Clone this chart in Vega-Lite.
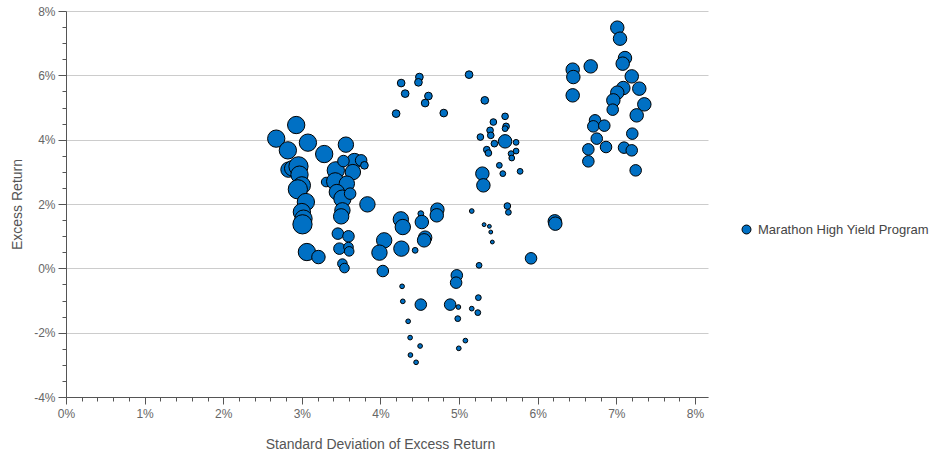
{
  "$schema": "https://vega.github.io/schema/vega-lite/v6.json",
  "width": 642,
  "height": 386,
  "autosize": {"type": "none"},
  "padding": {"left": 66, "top": 11, "right": 222, "bottom": 54},
  "background": "white",
  "config": {
    "view": {"stroke": null},
    "font": "Liberation Sans"
  },
  "data": {
    "values": [
      {"sd": 2.928, "ret": 4.455, "w": 81, "series": "Marathon High Yield Program"},
      {"sd": 2.674, "ret": 4.032, "w": 81, "series": "Marathon High Yield Program"},
      {"sd": 3.077, "ret": 3.907, "w": 81, "series": "Marathon High Yield Program"},
      {"sd": 2.822, "ret": 3.668, "w": 81, "series": "Marathon High Yield Program"},
      {"sd": 3.284, "ret": 3.553, "w": 81, "series": "Marathon High Yield Program"},
      {"sd": 3.560, "ret": 3.845, "w": 64, "series": "Marathon High Yield Program"},
      {"sd": 2.830, "ret": 3.068, "w": 64, "series": "Marathon High Yield Program"},
      {"sd": 2.877, "ret": 3.109, "w": 64, "series": "Marathon High Yield Program"},
      {"sd": 2.957, "ret": 3.171, "w": 100, "series": "Marathon High Yield Program"},
      {"sd": 2.970, "ret": 2.913, "w": 81, "series": "Marathon High Yield Program"},
      {"sd": 3.000, "ret": 2.580, "w": 81, "series": "Marathon High Yield Program"},
      {"sd": 2.949, "ret": 2.456, "w": 100, "series": "Marathon High Yield Program"},
      {"sd": 3.051, "ret": 2.061, "w": 81, "series": "Marathon High Yield Program"},
      {"sd": 3.000, "ret": 1.750, "w": 81, "series": "Marathon High Yield Program"},
      {"sd": 3.021, "ret": 1.545, "w": 81, "series": "Marathon High Yield Program"},
      {"sd": 3.008, "ret": 1.368, "w": 100, "series": "Marathon High Yield Program"},
      {"sd": 3.064, "ret": 0.507, "w": 81, "series": "Marathon High Yield Program"},
      {"sd": 3.211, "ret": 0.351, "w": 49, "series": "Marathon High Yield Program"},
      {"sd": 3.432, "ret": 3.046, "w": 81, "series": "Marathon High Yield Program"},
      {"sd": 3.669, "ret": 3.335, "w": 64, "series": "Marathon High Yield Program"},
      {"sd": 3.529, "ret": 3.335, "w": 36, "series": "Marathon High Yield Program"},
      {"sd": 3.754, "ret": 3.357, "w": 36, "series": "Marathon High Yield Program"},
      {"sd": 3.796, "ret": 3.202, "w": 16, "series": "Marathon High Yield Program"},
      {"sd": 3.649, "ret": 2.993, "w": 64, "series": "Marathon High Yield Program"},
      {"sd": 3.309, "ret": 2.683, "w": 25, "series": "Marathon High Yield Program"},
      {"sd": 3.424, "ret": 2.704, "w": 81, "series": "Marathon High Yield Program"},
      {"sd": 3.572, "ret": 2.633, "w": 64, "series": "Marathon High Yield Program"},
      {"sd": 3.445, "ret": 2.372, "w": 64, "series": "Marathon High Yield Program"},
      {"sd": 3.516, "ret": 2.167, "w": 81, "series": "Marathon High Yield Program"},
      {"sd": 3.614, "ret": 2.322, "w": 36, "series": "Marathon High Yield Program"},
      {"sd": 3.516, "ret": 1.803, "w": 64, "series": "Marathon High Yield Program"},
      {"sd": 3.500, "ret": 1.616, "w": 64, "series": "Marathon High Yield Program"},
      {"sd": 3.834, "ret": 1.989, "w": 64, "series": "Marathon High Yield Program"},
      {"sd": 3.458, "ret": 1.079, "w": 36, "series": "Marathon High Yield Program"},
      {"sd": 3.593, "ret": 0.995, "w": 36, "series": "Marathon High Yield Program"},
      {"sd": 3.478, "ret": 0.612, "w": 36, "series": "Marathon High Yield Program"},
      {"sd": 3.593, "ret": 0.662, "w": 25, "series": "Marathon High Yield Program"},
      {"sd": 3.602, "ret": 0.528, "w": 25, "series": "Marathon High Yield Program"},
      {"sd": 3.516, "ret": 0.146, "w": 25, "series": "Marathon High Yield Program"},
      {"sd": 3.542, "ret": 0.009, "w": 25, "series": "Marathon High Yield Program"},
      {"sd": 4.259, "ret": 1.523, "w": 64, "series": "Marathon High Yield Program"},
      {"sd": 4.284, "ret": 1.284, "w": 64, "series": "Marathon High Yield Program"},
      {"sd": 4.513, "ret": 1.700, "w": 9, "series": "Marathon High Yield Program"},
      {"sd": 4.526, "ret": 1.439, "w": 49, "series": "Marathon High Yield Program"},
      {"sd": 4.724, "ret": 1.825, "w": 49, "series": "Marathon High Yield Program"},
      {"sd": 4.716, "ret": 1.648, "w": 49, "series": "Marathon High Yield Program"},
      {"sd": 4.047, "ret": 0.870, "w": 64, "series": "Marathon High Yield Program"},
      {"sd": 3.987, "ret": 0.488, "w": 64, "series": "Marathon High Yield Program"},
      {"sd": 4.266, "ret": 0.612, "w": 64, "series": "Marathon High Yield Program"},
      {"sd": 4.568, "ret": 0.954, "w": 49, "series": "Marathon High Yield Program"},
      {"sd": 4.555, "ret": 0.870, "w": 49, "series": "Marathon High Yield Program"},
      {"sd": 4.441, "ret": 0.560, "w": 9, "series": "Marathon High Yield Program"},
      {"sd": 4.030, "ret": -0.084, "w": 36, "series": "Marathon High Yield Program"},
      {"sd": 5.161, "ret": 1.781, "w": 6, "series": "Marathon High Yield Program"},
      {"sd": 5.318, "ret": 1.358, "w": 4, "series": "Marathon High Yield Program"},
      {"sd": 5.254, "ret": 0.093, "w": 9, "series": "Marathon High Yield Program"},
      {"sd": 4.971, "ret": -0.218, "w": 36, "series": "Marathon High Yield Program"},
      {"sd": 4.962, "ret": -0.445, "w": 36, "series": "Marathon High Yield Program"},
      {"sd": 4.275, "ret": -0.560, "w": 6, "series": "Marathon High Yield Program"},
      {"sd": 4.284, "ret": -1.026, "w": 6, "series": "Marathon High Yield Program"},
      {"sd": 4.513, "ret": -1.128, "w": 36, "series": "Marathon High Yield Program"},
      {"sd": 4.886, "ret": -1.128, "w": 36, "series": "Marathon High Yield Program"},
      {"sd": 4.991, "ret": -1.203, "w": 6, "series": "Marathon High Yield Program"},
      {"sd": 5.245, "ret": -0.911, "w": 9, "series": "Marathon High Yield Program"},
      {"sd": 5.161, "ret": -1.253, "w": 6, "series": "Marathon High Yield Program"},
      {"sd": 5.238, "ret": -1.377, "w": 9, "series": "Marathon High Yield Program"},
      {"sd": 4.983, "ret": -1.564, "w": 9, "series": "Marathon High Yield Program"},
      {"sd": 4.352, "ret": -1.647, "w": 6, "series": "Marathon High Yield Program"},
      {"sd": 4.377, "ret": -2.154, "w": 6, "series": "Marathon High Yield Program"},
      {"sd": 4.504, "ret": -2.415, "w": 6, "series": "Marathon High Yield Program"},
      {"sd": 4.381, "ret": -2.695, "w": 6, "series": "Marathon High Yield Program"},
      {"sd": 4.453, "ret": -2.922, "w": 6, "series": "Marathon High Yield Program"},
      {"sd": 4.996, "ret": -2.487, "w": 6, "series": "Marathon High Yield Program"},
      {"sd": 5.080, "ret": -2.247, "w": 6, "series": "Marathon High Yield Program"},
      {"sd": 4.263, "ret": 5.760, "w": 16, "series": "Marathon High Yield Program"},
      {"sd": 4.314, "ret": 5.431, "w": 16, "series": "Marathon High Yield Program"},
      {"sd": 4.495, "ret": 5.947, "w": 16, "series": "Marathon High Yield Program"},
      {"sd": 4.483, "ret": 5.782, "w": 16, "series": "Marathon High Yield Program"},
      {"sd": 4.610, "ret": 5.356, "w": 16, "series": "Marathon High Yield Program"},
      {"sd": 4.568, "ret": 5.138, "w": 16, "series": "Marathon High Yield Program"},
      {"sd": 4.199, "ret": 4.809, "w": 16, "series": "Marathon High Yield Program"},
      {"sd": 4.805, "ret": 4.827, "w": 16, "series": "Marathon High Yield Program"},
      {"sd": 5.127, "ret": 6.021, "w": 16, "series": "Marathon High Yield Program"},
      {"sd": 5.327, "ret": 5.222, "w": 16, "series": "Marathon High Yield Program"},
      {"sd": 5.585, "ret": 4.725, "w": 12, "series": "Marathon High Yield Program"},
      {"sd": 5.436, "ret": 4.548, "w": 12, "series": "Marathon High Yield Program"},
      {"sd": 5.394, "ret": 4.290, "w": 12, "series": "Marathon High Yield Program"},
      {"sd": 5.403, "ret": 4.134, "w": 12, "series": "Marathon High Yield Program"},
      {"sd": 5.271, "ret": 4.081, "w": 12, "series": "Marathon High Yield Program"},
      {"sd": 5.598, "ret": 4.414, "w": 12, "series": "Marathon High Yield Program"},
      {"sd": 5.585, "ret": 4.343, "w": 9, "series": "Marathon High Yield Program"},
      {"sd": 5.585, "ret": 3.948, "w": 49, "series": "Marathon High Yield Program"},
      {"sd": 5.449, "ret": 3.876, "w": 12, "series": "Marathon High Yield Program"},
      {"sd": 5.725, "ret": 3.917, "w": 9, "series": "Marathon High Yield Program"},
      {"sd": 5.352, "ret": 3.690, "w": 12, "series": "Marathon High Yield Program"},
      {"sd": 5.373, "ret": 3.584, "w": 12, "series": "Marathon High Yield Program"},
      {"sd": 5.661, "ret": 3.565, "w": 9, "series": "Marathon High Yield Program"},
      {"sd": 5.725, "ret": 3.646, "w": 9, "series": "Marathon High Yield Program"},
      {"sd": 5.670, "ret": 3.429, "w": 9, "series": "Marathon High Yield Program"},
      {"sd": 5.512, "ret": 3.202, "w": 9, "series": "Marathon High Yield Program"},
      {"sd": 5.556, "ret": 2.944, "w": 9, "series": "Marathon High Yield Program"},
      {"sd": 5.776, "ret": 3.015, "w": 9, "series": "Marathon High Yield Program"},
      {"sd": 5.296, "ret": 2.944, "w": 49, "series": "Marathon High Yield Program"},
      {"sd": 5.309, "ret": 2.580, "w": 49, "series": "Marathon High Yield Program"},
      {"sd": 5.614, "ret": 1.937, "w": 12, "series": "Marathon High Yield Program"},
      {"sd": 5.627, "ret": 1.741, "w": 9, "series": "Marathon High Yield Program"},
      {"sd": 6.217, "ret": 1.461, "w": 49, "series": "Marathon High Yield Program"},
      {"sd": 6.224, "ret": 1.389, "w": 49, "series": "Marathon High Yield Program"},
      {"sd": 5.385, "ret": 1.306, "w": 4, "series": "Marathon High Yield Program"},
      {"sd": 5.403, "ret": 1.128, "w": 4, "series": "Marathon High Yield Program"},
      {"sd": 5.423, "ret": 0.818, "w": 4, "series": "Marathon High Yield Program"},
      {"sd": 5.915, "ret": 0.311, "w": 36, "series": "Marathon High Yield Program"},
      {"sd": 7.012, "ret": 7.482, "w": 49, "series": "Marathon High Yield Program"},
      {"sd": 7.047, "ret": 7.140, "w": 49, "series": "Marathon High Yield Program"},
      {"sd": 7.110, "ret": 6.537, "w": 49, "series": "Marathon High Yield Program"},
      {"sd": 7.081, "ret": 6.363, "w": 49, "series": "Marathon High Yield Program"},
      {"sd": 6.674, "ret": 6.279, "w": 49, "series": "Marathon High Yield Program"},
      {"sd": 6.445, "ret": 6.177, "w": 49, "series": "Marathon High Yield Program"},
      {"sd": 6.453, "ret": 5.947, "w": 49, "series": "Marathon High Yield Program"},
      {"sd": 6.445, "ret": 5.378, "w": 49, "series": "Marathon High Yield Program"},
      {"sd": 7.196, "ret": 5.968, "w": 49, "series": "Marathon High Yield Program"},
      {"sd": 7.292, "ret": 5.586, "w": 49, "series": "Marathon High Yield Program"},
      {"sd": 7.089, "ret": 5.605, "w": 49, "series": "Marathon High Yield Program"},
      {"sd": 7.012, "ret": 5.462, "w": 49, "series": "Marathon High Yield Program"},
      {"sd": 6.962, "ret": 5.222, "w": 49, "series": "Marathon High Yield Program"},
      {"sd": 7.356, "ret": 5.098, "w": 49, "series": "Marathon High Yield Program"},
      {"sd": 6.954, "ret": 4.933, "w": 36, "series": "Marathon High Yield Program"},
      {"sd": 7.259, "ret": 4.756, "w": 49, "series": "Marathon High Yield Program"},
      {"sd": 6.729, "ret": 4.601, "w": 36, "series": "Marathon High Yield Program"},
      {"sd": 6.707, "ret": 4.414, "w": 36, "series": "Marathon High Yield Program"},
      {"sd": 6.847, "ret": 4.436, "w": 36, "series": "Marathon High Yield Program"},
      {"sd": 7.203, "ret": 4.187, "w": 36, "series": "Marathon High Yield Program"},
      {"sd": 6.751, "ret": 4.032, "w": 36, "series": "Marathon High Yield Program"},
      {"sd": 6.644, "ret": 3.699, "w": 36, "series": "Marathon High Yield Program"},
      {"sd": 6.869, "ret": 3.771, "w": 36, "series": "Marathon High Yield Program"},
      {"sd": 7.098, "ret": 3.752, "w": 36, "series": "Marathon High Yield Program"},
      {"sd": 7.196, "ret": 3.668, "w": 36, "series": "Marathon High Yield Program"},
      {"sd": 6.644, "ret": 3.326, "w": 36, "series": "Marathon High Yield Program"},
      {"sd": 7.246, "ret": 3.046, "w": 36, "series": "Marathon High Yield Program"}
    ]
  },
  "mark": {"type": "circle", "stroke": "#000000", "strokeWidth": 1, "opacity": 1, "fillOpacity": 1},
  "encoding": {
    "x": {
      "field": "sd",
      "type": "quantitative",
      "scale": {"domain": [0, 8.166], "nice": false, "zero": false},
      "axis": {
        "title": "Standard Deviation of Excess Return",
        "titleFont": "Liberation Sans",
        "titleFontSize": 14,
        "titleFontWeight": "normal",
        "titleColor": "#555555",
        "titleX": 314,
        "titleY": 51,
        "titleBaseline": "alphabetic",
        "titleAlign": "center",
        "values": [0, 0.2, 0.4, 0.6, 0.8, 1, 1.2, 1.4, 1.6, 1.8, 2, 2.2, 2.4, 2.6, 2.8, 3, 3.2, 3.4, 3.6, 3.8, 4, 4.2, 4.4, 4.6, 4.8, 5, 5.2, 5.4, 5.6, 5.8, 6, 6.2, 6.4, 6.6, 6.8, 7, 7.2, 7.4, 7.6, 7.8, 8],
        "labelExpr": "abs(datum.value - round(datum.value)) < 0.001 ? datum.value + '%' : ''",
        "labelFont": "Liberation Sans",
        "labelFontSize": 12,
        "labelColor": "#666666",
        "labelOverlap": false,
        "labelFlush": false,
        "labelPadding": 4,
        "grid": false,
        "domainColor": "#555555",
        "domainWidth": 1,
        "tickColor": "#555555",
        "tickWidth": 1,
        "tickSize": {"condition": {"test": "abs(datum.value - round(datum.value)) < 0.001", "value": 7}, "value": 4}
      }
    },
    "y": {
      "field": "ret",
      "type": "quantitative",
      "scale": {"domain": [-4, 8], "nice": false, "zero": false},
      "axis": {
        "title": "Excess Return",
        "titleFont": "Liberation Sans",
        "titleFontSize": 14,
        "titleFontWeight": "normal",
        "titleColor": "#555555",
        "titleAngle": -90,
        "titleX": -45,
        "titleY": 193,
        "titleBaseline": "alphabetic",
        "titleAlign": "center",
        "values": [-4, -3.5, -3, -2.5, -2, -1.5, -1, -0.5, 0, 0.5, 1, 1.5, 2, 2.5, 3, 3.5, 4, 4.5, 5, 5.5, 6, 6.5, 7, 7.5, 8],
        "labelExpr": "abs(datum.value % 2) < 0.001 ? datum.value + '%' : ''",
        "labelFont": "Liberation Sans",
        "labelFontSize": 12,
        "labelColor": "#666666",
        "labelOverlap": false,
        "labelPadding": 3,
        "grid": true,
        "gridColor": "#cccccc",
        "gridWidth": 1,
        "gridOpacity": {"condition": {"test": "abs(datum.value % 2) < 0.001", "value": 1}, "value": 0},
        "domainColor": "#555555",
        "domainWidth": 1,
        "tickColor": "#555555",
        "tickWidth": 1,
        "tickSize": {"condition": {"test": "abs(datum.value % 2) < 0.001", "value": 8}, "value": 4}
      }
    },
    "size": {
      "field": "w",
      "type": "quantitative",
      "scale": {"type": "linear", "domain": [0, 100], "range": [0, 370], "zero": true},
      "legend": null
    },
    "fill": {
      "field": "series",
      "type": "nominal",
      "scale": {"range": ["#0070c4"]},
      "legend": {
        "title": null,
        "orient": "none",
        "legendX": 674,
        "legendY": 212,
        "padding": 0,
        "symbolType": "circle",
        "symbolSize": 80,
        "symbolStrokeColor": "#000000",
        "symbolStrokeWidth": 1,
        "labelFont": "Liberation Sans",
        "labelFontSize": 13,
        "labelLimit": 0,
        "labelColor": "#444444",
        "labelOffset": 5
      }
    }
  }
}
